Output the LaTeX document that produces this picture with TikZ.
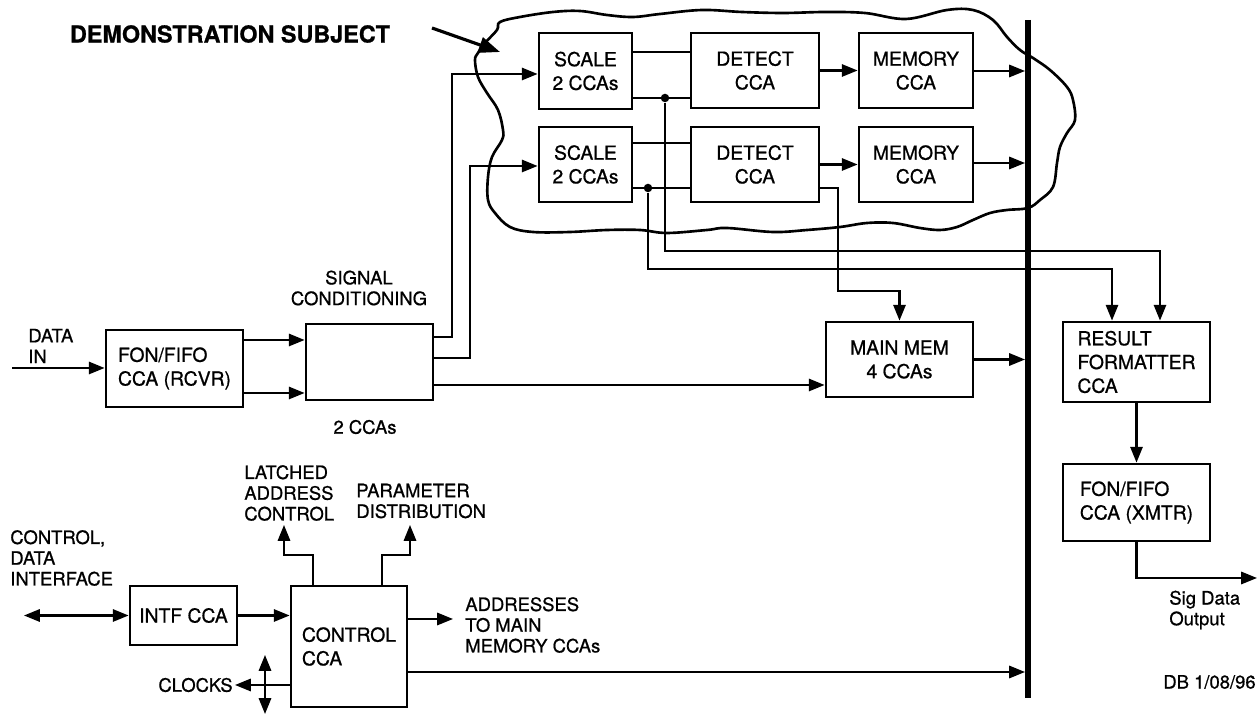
\documentclass[tikz,border=0pt]{standalone}
\usepackage{fontspec}
\setmainfont{TeX Gyre Heros}[FakeBold=0.8]
\usepackage{tikz}
\usetikzlibrary{arrows.meta,positioning}

\begin{document}
\begin{tikzpicture}[x=0.02cm,y=-0.02cm,
  box/.style={draw,line width=1.6pt,inner sep=0pt,align=center,
    font=\fontsize{11}{13.5}\selectfont},
  lbl/.style={inner sep=0pt,align=left,font=\fontsize{10.5}{11.8}\selectfont},
  wire/.style={line width=1.2pt},
  arr/.style={line width=1.2pt,-{Triangle[length=9pt,width=7pt]}},
  dbl/.style={line width=1.2pt,{Triangle[length=9pt,width=7pt]}-{Triangle[length=9pt,width=7pt]}},
  dot/.style={circle,fill=black,inner sep=0pt,minimum size=0.17cm}]
  \useasboundingbox (0,0) rectangle (1259,715);

  % demonstration subject
  \draw[line width=1.5pt] plot[smooth cycle,tension=0.6] coordinates {
    (500,22) (520,17) (553,12) (580,11) (607,15) (633,17) (660,14) (702,10)
    (742,12) (783,13) (825,12) (865,13) (906,19) (947,10) (973,10) (993,20)
    (1007,37) (1020,50) (1033,58) (1050,70) (1067,87) (1073,100) (1075,120)
    (1067,133) (1060,147) (1057,163) (1053,187) (1040,200) (1028,208)
    (1007,210) (990,213) (973,220) (957,227) (940,230) (920,228) (893,223)
    (867,223) (840,227) (807,230) (773,232) (727,228) (707,230) (667,233)
    (640,230) (607,230) (570,232) (533,232) (510,227) (495,213) (488,200)
    (488,177) (492,157) (502,140) (503,130) (498,110) (487,93) (478,77)
    (475,60) (478,53) (485,43) (497,30)};
  \node[inner sep=0pt,font=\bfseries\fontsize{13.3}{16}\selectfont] (title) at (230,34) {DEMONSTRATION SUBJECT};
  \coordinate (subjtail) at (432,28);
  \coordinate (subjtip) at (500,52);
  \draw[line width=1.8pt,-{Triangle[length=12pt,width=9pt]}] (subjtail) -- (subjtip);

  % channel boxes
  \node[box,minimum width=1.86cm,minimum height=1.52cm] (scaleA) at (585.5,71) {SCALE\\2 CCAs};
  \node[box,minimum width=1.86cm,minimum height=1.5cm] (scaleB) at (585.5,164.5) {SCALE\\2 CCAs};
  \node[box,minimum width=2.56cm,minimum height=1.5cm] (detA) at (755,70.5) {DETECT\\CCA};
  \node[box,minimum width=2.56cm,minimum height=1.5cm] (detB) at (755,164.5) {DETECT\\CCA};
  \node[box,minimum width=2.28cm,minimum height=1.5cm] (memA) at (916,70.5) {MEMORY\\CCA};
  \node[box,minimum width=2.28cm,minimum height=1.5cm] (memB) at (916,164.5) {MEMORY\\CCA};
  \node[dot] (dotA) at (665,98) {};
  \node[dot] (dotB) at (648,188) {};

  % other boxes
  \node[box,minimum width=2.54cm,minimum height=1.52cm] (sigcond) at (369.5,362) {};
  \node[box,minimum width=2.74cm,minimum height=1.54cm,align=left] (fonrx) at (174.5,368.5) {FON/FIFO\\CCA (RCVR)};
  \node[box,minimum width=2.94cm,minimum height=1.5cm] (mainmem) at (899.5,359.5) {MAIN MEM\\4 CCAs};
  \node[box,minimum width=2.94cm,minimum height=1.6cm,align=left] (result) at (1136.5,362) {RESULT\\FORMATTER\\CCA};
  \node[box,minimum width=2.94cm,minimum height=1.54cm,align=left] (fontx) at (1136.5,502.5) {FON/FIFO\\CCA (XMTR)};
  \node[box,minimum width=2.14cm,minimum height=1.18cm] (intf) at (183.5,615.5) {INTF CCA};
  \node[box,minimum width=2.32cm,minimum height=2.42cm,align=left] (control) at (349,646.5) {CONTROL\\CCA};

  % bus
  \coordinate (bustop) at (1028,20);
  \coordinate (busbot) at (1028,698);
  \draw[line width=3.4pt] (bustop) -- (busbot);

  % labels
  \node[lbl,align=center] (sclbl) at (359,288) {SIGNAL\\CONDITIONING};
  \node[lbl] (cclbl) at (365,427) {2 CCAs};
  \node[lbl,anchor=west] (dinlbl) at (28,346) {DATA\\IN};
  \node[lbl,anchor=west] (latchlbl) at (244,493) {LATCHED\\ADDRESS\\CONTROL};
  \node[lbl,anchor=west] (paramlbl) at (356,501) {PARAMETER\\DISTRIBUTION};
  \node[lbl,anchor=west] (ctllbl) at (10,558) {CONTROL,\\DATA\\INTERFACE};
  \node[lbl,anchor=west] (addrlbl) at (465,625) {ADDRESSES\\TO MAIN\\MEMORY CCAs};
  \node[lbl,anchor=east] (clklbl) at (233,685) {CLOCKS};
  \node[lbl,anchor=west] (outlbl) at (1169,610) {Sig Data\\Output};
  \node[lbl,anchor=east] (dblbl) at (1256,682) {DB 1/08/96};

  % data path
  \coordinate (datain) at (12,368);
  \draw[arr] (datain) -- (fonrx.west |- datain);
  \draw[arr] (fonrx.east |- 0,340) -- (sigcond.west |- 0,340);
  \draw[arr] (fonrx.east |- 0,393) -- (sigcond.west |- 0,393);
  \draw[arr] (sigcond.east |- 0,337) -- ++(18,0) |- (scaleA.west |- 0,74);
  \draw[arr] (sigcond.east |- 0,358) -- ++(36,0) |- (scaleB.west |- 0,166);
  \draw[arr] (sigcond.east |- 0,385) -- (mainmem.west |- 0,385);

  \draw[wire] (scaleA.east |- 0,52) -- (detA.west |- 0,52);
  \draw[wire] (scaleA.east |- dotA) -- (detA.west |- dotA);
  \draw[arr] (detA) -- (memA);
  \draw[arr,shorten >=1.7pt] (memA.east |- 0,71) -- (bustop |- 0,71);
  \draw[wire] (scaleB.east |- 0,143) -- (detB.west |- 0,143);
  \draw[wire] (scaleB.east |- dotB) -- (detB.west |- dotB);
  \draw[arr] (detB) -- (memB);
  \draw[arr,shorten >=1.7pt] (memB.east |- 0,163) -- (bustop |- 0,163);

  % taps to main memory and formatter
  \coordinate (inA) at ([xshift=0.47cm]result.north);
  \coordinate (inB) at ([xshift=-0.49cm]result.north);
  \draw[arr] (detB.east |- dotB) -- ++(18,0) |- ([yshift=0.6cm]mainmem.north) -- (mainmem.north);
  \draw[arr] (dotA) |- ([yshift=1.4cm]inA) -- (inA);
  \draw[arr] (dotB) |- ([yshift=1.04cm]inB) -- (inB);
  \draw[arr,shorten >=1.7pt] (mainmem.east) -- (mainmem.east -| bustop);
  \draw[arr] (result) -- (fontx);
  \coordinate (sigout) at (1257,578);
  \draw[arr] (fontx.south) |- (sigout);

  % control
  \coordinate (ctlif) at (24,615.5);
  \draw[dbl] (ctlif) -- (intf.west);
  \draw[arr] (intf.east) -- (intf.east -| control.west);
  \coordinate (latch) at (284,525);
  \coordinate (param) at (410,525);
  \draw[arr] ([xshift=-0.72cm]control.north) -- ++(0,-30) -| (latch);
  \draw[arr] ([xshift=0.66cm]control.north) -- ++(0,-30) -| (param);
  \coordinate (addr) at (453,619);
  \draw[arr] (control.east |- addr) -- (addr);
  \draw[arr,shorten >=1.7pt] (control.east |- 0,672) -- (bustop |- 0,672);
  \coordinate (clk) at (235,685);
  \draw[arr] (control.west |- clk) -- (clk);
  \coordinate (clkup) at (265,655);
  \coordinate (clkdn) at (265,714);
  \draw[dbl] (clkup) -- (clkdn);
\end{tikzpicture}
\end{document}
